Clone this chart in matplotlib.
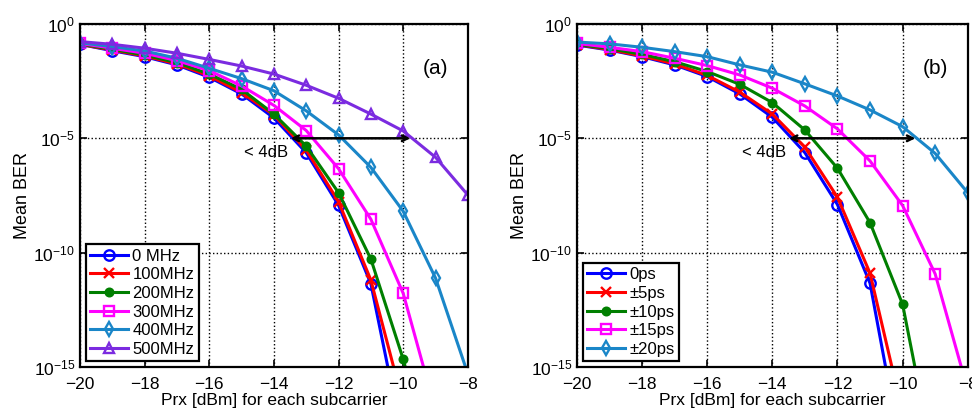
import numpy as np
import matplotlib
matplotlib.use("Agg")
import matplotlib.pyplot as plt

plt.rcParams['font.family'] = ['Liberation Sans', 'DejaVu Sans']

prx = np.arange(-20, -7)  # -20 ... -8 dBm

# log10(mean BER) per curve, panel (a): laser linewidth
lw_labels = ['0 MHz', '100MHz', '200MHz', '300MHz', '400MHz', '500MHz']
lw_0 = [-0.89, -1.17, -1.43, -1.79, -2.33, -3.06, -4.11, -5.63, -7.93, -11.36, -18.3]
lw_100 = [-0.89, -1.14, -1.40, -1.75, -2.27, -3.00, -3.98, -5.51, -7.77, -11.20, -16.6]
lw_200 = [-0.87, -1.11, -1.36, -1.69, -2.19, -2.86, -3.94, -5.34, -7.38, -10.28, -14.66, -20.0]
lw_300 = [-0.85, -1.06, -1.28, -1.60, -2.04, -2.71, -3.56, -4.66, -6.33, -8.54, -11.78, -16.9]
lw_400 = [-0.82, -0.99, -1.18, -1.50, -1.94, -2.39, -2.92, -3.80, -4.85, -6.27, -8.19, -11.11, -15.3]
lw_500 = [-0.77, -0.89, -1.06, -1.28, -1.55, -1.84, -2.19, -2.68, -3.25, -3.94, -4.68, -5.83, -7.48]

# panel (b): timing jitter
jit_labels = ['0ps', '\u00b15ps', '\u00b110ps', '\u00b115ps', '\u00b120ps']
jit_0 = [-0.92, -1.14, -1.43, -1.79, -2.30, -3.06, -4.08, -5.63, -7.90, -11.34, -19.0]
jit_5 = [-0.90, -1.12, -1.40, -1.75, -2.25, -2.98, -3.94, -5.39, -7.58, -10.90, -17.0]
jit_10 = [-0.89, -1.08, -1.33, -1.65, -2.08, -2.64, -3.44, -4.64, -6.31, -8.69, -12.26, -19.5]
jit_15 = [-0.85, -1.02, -1.21, -1.50, -1.82, -2.23, -2.81, -3.59, -4.59, -5.99, -7.94, -10.93, -16.0]
jit_20 = [-0.79, -0.87, -1.02, -1.21, -1.43, -1.79, -2.11, -2.62, -3.15, -3.76, -4.49, -5.66, -7.38]

colors = ['#0000ff', '#ff0000', '#007f00', '#ff00ff', '#1a86c8', '#7b2be0']
markers = ['o', 'x', 'o', 's', 'd', '^']
filled = [False, True, True, False, False, False]


def draw_panel(ax, curves, labels, arrow_x, tag):
    for i, (y, lab) in enumerate(zip(curves, labels)):
        y = np.array(y)
        x = prx[:len(y)]
        face = colors[i] if filled[i] else 'none'
        ms = 5.5 if i == 2 else 7.5
        ax.semilogy(x, 10.0 ** y, color=colors[i], lw=2.2, marker=markers[i],
                    ms=ms, mfc=face, mec=colors[i], mew=1.7, label=lab)
    ax.set_xlim(-20, -8)
    ax.set_ylim(1e-15, 1)
    ax.set_xticks(np.arange(-20, -7, 2))
    ax.set_xticklabels(['\u2212%d' % abs(v) for v in range(-20, -7, 2)])
    ax.set_yticks([1e0, 1e-5, 1e-10, 1e-15])
    ax.yaxis.set_minor_locator(matplotlib.ticker.NullLocator())
    ax.grid(True, which='major', color='black', ls=':', lw=1.0)
    ax.tick_params(direction='in', labelsize=12.5, length=5, width=1.2,
                   top=True, right=True)
    ax.tick_params(axis='x', pad=7)
    for sp in ax.spines.values():
        sp.set_linewidth(1.6)
    ax.set_xlabel('Prx [dBm] for each subcarrier', fontsize=12.5, labelpad=1)
    ax.set_ylabel('Mean BER', fontsize=13, labelpad=2)
    ax.annotate('', xy=(arrow_x[1], 1e-5), xytext=(arrow_x[0], 1e-5),
                arrowprops=dict(arrowstyle='<->', color='black', lw=1.8,
                                shrinkA=0, shrinkB=0))
    ax.text(-14.25, 10 ** -5.6, '< 4dB', fontsize=12, ha='center', va='center')
    ax.text(-9.0, 10 ** -1.95, tag, fontsize=15, ha='center', va='center')
    leg = ax.legend(loc='lower left', fontsize=12, handlelength=2.3,
                    borderaxespad=0.35, labelspacing=0.22, handletextpad=0.25,
                    borderpad=0.25, fancybox=False, framealpha=1)
    leg.get_frame().set_edgecolor('black')
    leg.get_frame().set_linewidth(1.6)


fig = plt.figure(figsize=(9.72, 4.17), dpi=100)
ax1 = fig.add_axes([0.0823, 0.12, 0.399, 0.8225])
ax2 = fig.add_axes([0.5936, 0.12, 0.402, 0.8225])

draw_panel(ax1, [lw_0, lw_100, lw_200, lw_300, lw_400, lw_500], lw_labels,
           (-13.48, -9.78), '(a)')
draw_panel(ax2, [jit_0, jit_5, jit_10, jit_15, jit_20], jit_labels,
           (-13.49, -9.61), '(b)')

fig.savefig('out.png', dpi=100)
